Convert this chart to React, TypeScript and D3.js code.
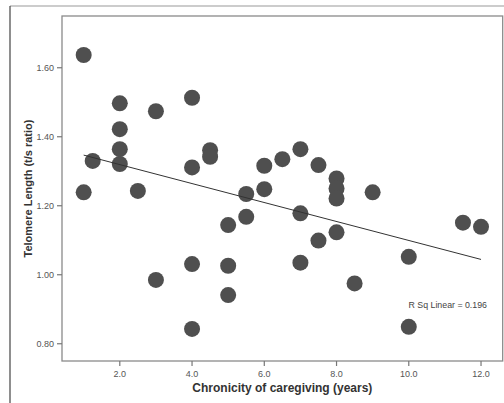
import React, { useEffect, useRef } from "react";
import * as d3 from "d3";

// chronicity of caregiving (years)
const years = [
  1, 1, 1.25, 2, 2, 2, 2, 2.5, 3, 3, 4, 4, 4, 4, 4.5, 4.5, 5, 5, 5, 5.5, 5.5,
  6, 6, 6.5, 7, 7, 7, 7.5, 7.5, 8, 8, 8, 8, 8.5, 9, 10, 10, 11.5, 12,
];
// telomere length (t/s ratio)
const telomere = [
  1.637, 1.239, 1.33, 1.497, 1.422, 1.364, 1.321, 1.243, 1.474, 0.985, 1.513,
  1.311, 1.031, 0.843, 1.361, 1.342, 1.144, 1.026, 0.941, 1.234, 1.168, 1.316,
  1.248, 1.335, 1.364, 1.178, 1.035, 1.318, 1.099, 1.279, 1.25, 1.221, 1.123,
  0.975, 1.239, 1.052, 0.849, 1.151, 1.139,
];
const xTicks = [2, 4, 6, 8, 10, 12];
const yTicks = [0.8, 1.0, 1.2, 1.4, 1.6];
const rSqText = "R Sq Linear = 0.196";

const W = 504;
const H = 403;

const App = () => {
  const ref = useRef<SVGSVGElement | null>(null);

  useEffect(() => {
    const svg = d3.select(ref.current);
    svg.selectAll("*").remove();

    const left = 62;
    const right = 502.7;
    const top = 16;
    const bottom = 361;

    const x = d3.scaleLinear().domain([0.4, 12.6]).range([left, right]);
    const y = d3.scaleLinear().domain([0.75, 1.75]).range([bottom, top]);

    const font = "Liberation Sans, Arial, sans-serif";

    // outer frame
    svg.append("line").attr("x1", 10).attr("x2", W).attr("y1", 6).attr("y2", 6)
      .attr("stroke", "#9a9a9a").attr("stroke-width", 1.2);
    svg.append("line").attr("x1", 10).attr("x2", 10).attr("y1", 6).attr("y2", H)
      .attr("stroke", "#444").attr("stroke-width", 1.2);

    // plot frame
    svg.append("rect")
      .attr("x", left).attr("y", top)
      .attr("width", right - left).attr("height", bottom - top)
      .attr("fill", "none").attr("stroke", "#8a8a8a").attr("stroke-width", 1.3);

    // y axis
    const gy = svg.append("g").attr("font-family", font).attr("font-size", 9).attr("fill", "#555");
    yTicks.forEach((t) => {
      gy.append("line").attr("x1", left - 5).attr("x2", left)
        .attr("y1", y(t)).attr("y2", y(t)).attr("stroke", "#777").attr("stroke-width", 1.2);
      gy.append("text").attr("x", left - 8).attr("y", y(t)).attr("dy", "0.35em")
        .attr("text-anchor", "end").text(d3.format(".2f")(t));
    });

    // x axis
    const gx = svg.append("g").attr("font-family", font).attr("font-size", 9).attr("fill", "#555");
    xTicks.forEach((t) => {
      gx.append("line").attr("x1", x(t)).attr("x2", x(t))
        .attr("y1", bottom).attr("y2", bottom + 5).attr("stroke", "#777").attr("stroke-width", 1.2);
      gx.append("text").attr("x", x(t)).attr("y", bottom + 16)
        .attr("text-anchor", "middle").text(d3.format(".1f")(t));
    });

    // axis titles
    svg.append("text")
      .attr("x", (left + right) / 2).attr("y", 392)
      .attr("text-anchor", "middle").attr("font-family", font)
      .attr("font-weight", "bold").attr("font-size", 12).attr("fill", "#333")
      .text("Chronicity of caregiving (years)");
    svg.append("text")
      .attr("transform", `translate(32,${(top + bottom) / 2}) rotate(-90)`)
      .attr("text-anchor", "middle").attr("font-family", font)
      .attr("font-weight", "bold").attr("font-size", 11).attr("fill", "#333")
      .text("Telomere Length (t/s ratio)");

    // points
    const pts = years.map((v, i) => [v, telomere[i]] as [number, number]);
    svg.append("g").selectAll("circle").data(pts).join("circle")
      .attr("cx", (d) => x(d[0])).attr("cy", (d) => y(d[1]))
      .attr("r", 8).attr("fill", "#4f4f4f");

    // linear fit
    const mx = d3.mean(years)!;
    const my = d3.mean(telomere)!;
    const sxy = d3.sum(pts, (d) => (d[0] - mx) * (d[1] - my));
    const sxx = d3.sum(pts, (d) => (d[0] - mx) ** 2);
    const slope = sxy / sxx;
    const icpt = my - slope * mx;
    const [x0, x1] = d3.extent(years) as [number, number];
    svg.append("line")
      .attr("x1", x(x0)).attr("y1", y(icpt + slope * x0))
      .attr("x2", x(x1)).attr("y2", y(icpt + slope * x1))
      .attr("stroke", "#333").attr("stroke-width", 1);

    svg.append("text")
      .attr("x", 487).attr("y", 308).attr("text-anchor", "end")
      .attr("font-family", font).attr("font-size", 8.8).attr("fill", "#444")
      .text(rSqText);
  }, []);

  return (
    <svg
      ref={ref}
      width={W}
      height={H}
      style={{ position: "absolute", left: 0, top: 0, background: "#fff" }}
    />
  );
};

export default App;
